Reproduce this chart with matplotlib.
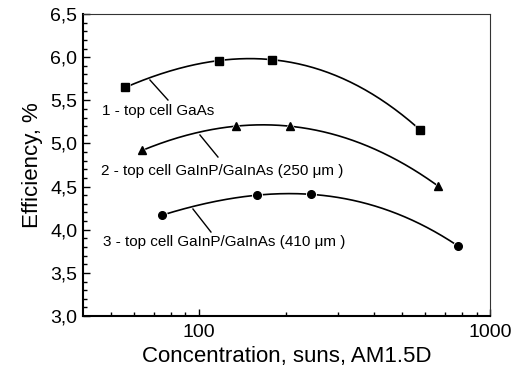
import numpy as np
import matplotlib
matplotlib.use('Agg')
import matplotlib.pyplot as plt
from matplotlib.ticker import MultipleLocator, FuncFormatter, FixedLocator, NullFormatter

plt.rcParams['font.family'] = ['Liberation Sans', 'DejaVu Sans']

# data
conc_gaas = [56, 117, 179, 574]
eff_gaas = [5.65, 5.96, 5.97, 5.16]
conc_250 = [64, 134, 205, 661]
eff_250 = [4.92, 5.20, 5.20, 4.51]
conc_410 = [75, 158, 243, 778]
eff_410 = [4.17, 4.40, 4.41, 3.81]

labels = ['1 - top cell GaAs',
          '2 - top cell GaInP/GaInAs (250 \u03bcm )',
          '3 - top cell GaInP/GaInAs (410 \u03bcm )']

fig = plt.figure(figsize=(5.12, 3.74), dpi=100)
ax = fig.add_axes([0.162, 0.155, 0.795, 0.8076])

for xs, ys, m in [(conc_gaas, eff_gaas, 's'), (conc_250, eff_250, '^'), (conc_410, eff_410, 'o')]:
    lx = np.log10(xs)
    c = np.polyfit(lx, ys, 3)
    xx = np.linspace(lx[0], lx[-1], 200)
    ax.plot(10 ** xx, np.polyval(c, xx), color='black', lw=1.2, zorder=2)
    ax.plot(xs, ys, ls='none', marker=m, ms=6, mfc='black', mec='white', mew=1.8, zorder=3)
    ax.plot(xs, ys, ls='none', marker=m, ms=5.5, color='black', zorder=4)

ax.set_xscale('log')
ax.set_xlim(40, 1000)
ax.set_ylim(3.0, 6.5)
ax.xaxis.set_major_locator(FixedLocator([100, 1000]))
ax.xaxis.set_major_formatter(FuncFormatter(lambda v, p: '%d' % v))
ax.xaxis.set_minor_locator(FixedLocator([50, 60, 70, 80, 90, 200, 300, 400, 500, 600, 700, 800, 900]))
ax.xaxis.set_minor_formatter(NullFormatter())
ax.yaxis.set_major_locator(MultipleLocator(0.5))
ax.yaxis.set_minor_locator(MultipleLocator(0.1))
ax.yaxis.set_major_formatter(FuncFormatter(lambda v, p: ('%.1f' % v).replace('.', ',')))

ax.tick_params(which='both', direction='in', top=False, right=False, labelsize=14, width=1.0)
ax.tick_params(which='major', length=5)
ax.tick_params(which='minor', length=3)
ax.tick_params(axis='x', pad=6)
ax.tick_params(axis='y', pad=4)
for s in ['top', 'right']:
    ax.spines[s].set_linewidth(0.8)
    ax.spines[s].set_color('#333333')
for s in ['left', 'bottom']:
    ax.spines[s].set_linewidth(1.5)

ax.set_xlabel('Concentration, suns, AM1.5D', fontsize=16, labelpad=3)
ax.set_ylabel('Efficiency, %', fontsize=16, labelpad=5)

# annotation labels (positions in pixels of the figure -> axes fraction)
def px(x, y):
    return ((x - 83) / 407.0, (316 - y) / 302.0)

text_pos = [(102, 111), (101, 171), (103, 242)]
leaders = [((150, 80), (168, 100)), ((200, 135), (218, 157)), ((193, 209), (211, 232))]
for lab, tp, (p0, p1) in zip(labels, text_pos, leaders):
    ax.text(*px(*tp), lab, transform=ax.transAxes, fontsize=11, va='center', ha='left')
    a, b = px(*p0), px(*p1)
    ax.plot([a[0], b[0]], [a[1], b[1]], transform=ax.transAxes, color='black', lw=1.0)

fig.savefig('out.png', dpi=100)
